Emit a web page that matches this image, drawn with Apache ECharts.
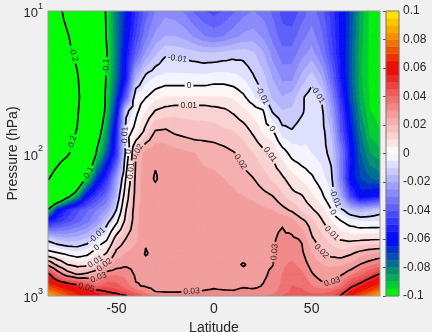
<!DOCTYPE html>
<html>
<head>
<meta charset="utf-8">
<script src="https://cdn.jsdelivr.net/npm/echarts@6/dist/echarts.min.js"></script>
<style>
  html, body { margin: 0; padding: 0; background: #f0f0f0; }
  #chart { width: 432px; height: 332px; }
</style>
</head>
<body>
<div id="chart"></div>
<script>
// grid of the field
var lats = [-85, -80, -75, -70, -65, -60, -55, -50, -45, -40, -35, -30, -25, -20, -15, -10, -5, 0, 5, 10, 15, 20, 25, 30, 35, 40, 45, 50, 55, 60, 65, 70, 75, 80, 85];
var levels = [10, 15, 20, 30, 40, 50, 70, 100, 150, 200, 250, 300, 400, 500, 600, 700, 850, 925, 1000];

var p10 = [-0.30, -0.22, -0.175, -0.15, -0.13, -0.115, -0.098, -0.08, -0.065, -0.05, -0.038, -0.03, -0.027, -0.028, -0.031, -0.036, -0.04, -0.042, -0.04, -0.036, -0.032, -0.03, -0.032, -0.036, -0.042, -0.044, -0.038, -0.033, -0.038, -0.047, -0.058, -0.072, -0.087, -0.097, -0.099];
var p15 = [-0.29, -0.235, -0.205, -0.165, -0.135, -0.117, -0.099, -0.08, -0.062, -0.045, -0.032, -0.024, -0.02, -0.02, -0.022, -0.026, -0.03, -0.032, -0.03, -0.027, -0.024, -0.023, -0.026, -0.032, -0.038, -0.038, -0.032, -0.028, -0.034, -0.045, -0.058, -0.073, -0.088, -0.097, -0.099];
var p20 = [-0.28, -0.245, -0.215, -0.19, -0.15, -0.12, -0.101, -0.08, -0.058, -0.038, -0.024, -0.016, -0.011, -0.0115, -0.012, -0.013, -0.014, -0.014, -0.013, -0.012, -0.012, -0.014, -0.019, -0.027, -0.033, -0.033, -0.027, -0.023, -0.03, -0.043, -0.058, -0.074, -0.089, -0.097, -0.099];
var p30 = [-0.27, -0.25, -0.225, -0.205, -0.16, -0.122, -0.098, -0.078, -0.055, -0.018, -0.007, -0.004, -0.003, -0.003, -0.003, -0.003, -0.003, -0.002, -0.002, -0.003, -0.005, -0.009, -0.013, -0.02, -0.026, -0.026, -0.018, -0.012, -0.019, -0.035, -0.055, -0.074, -0.089, -0.097, -0.099];
var p40 = [-0.265, -0.25, -0.23, -0.21, -0.165, -0.125, -0.096, -0.072, -0.04, -0.003, -0.0005, 0.003, 0.005, 0.005, 0.005, 0.005, 0.005, 0.005, 0.005, 0.004, 0.001, -0.004, -0.0102, -0.016, -0.02, -0.018, -0.011, -0.007, -0.0105, -0.027, -0.05, -0.072, -0.088, -0.096, -0.098];
var p50 = [-0.26, -0.245, -0.225, -0.205, -0.165, -0.125, -0.094, -0.065, -0.013, -0.002, 0.005, 0.0102, 0.012, 0.013, 0.013, 0.013, 0.013, 0.012, 0.011, 0.009, 0.006, 0.003, 0.0005, -0.011, -0.015, -0.014, -0.011, -0.006, -0.008, -0.022, -0.045, -0.068, -0.085, -0.095, -0.097];
var p70 = [-0.25, -0.235, -0.215, -0.198, -0.16, -0.112, -0.085, -0.055, -0.004, 0.003, 0.012, 0.0205, 0.021, 0.019, 0.018, 0.017, 0.017, 0.017, 0.016, 0.015, 0.013, 0.009, 0.004, 0.001, -0.008, -0.0095, -0.007, -0.005, -0.007, -0.016, -0.04, -0.063, -0.08, -0.092, -0.095];
var p100 = [-0.235, -0.22, -0.205, -0.18, -0.14, -0.097, -0.075, -0.05, -0.006, 0.0202, 0.027, 0.029, 0.028, 0.027, 0.026, 0.025, 0.024, 0.023, 0.022, 0.0205, 0.018, 0.015, 0.012, 0.009, 0.003, -0.002, -0.004, -0.005, -0.007, -0.012, -0.03, -0.058, -0.075, -0.085, -0.088];
var p150 = [-0.203, -0.18, -0.155, -0.125, -0.095, -0.068, -0.05, -0.025, 0.001, 0.022, 0.028, 0.0305, 0.028, 0.027, 0.027, 0.027, 0.026, 0.026, 0.025, 0.024, 0.022, 0.0202, 0.017, 0.014, 0.011, 0.007, 0.004, 0.001, -0.003, -0.008, -0.03, -0.061, -0.07, -0.075, -0.077];
var p200 = [-0.15, -0.13, -0.105, -0.085, -0.058, -0.045, -0.035, -0.017, 0.006, 0.023, 0.027, 0.028, 0.027, 0.027, 0.027, 0.026, 0.026, 0.026, 0.026, 0.026, 0.025, 0.024, 0.022, 0.0202, 0.016, 0.012, 0.0105, 0.006, 0.0015, -0.005, -0.02, -0.045, -0.062, -0.059, -0.055];
var p250 = [-0.097, -0.062, -0.05, -0.042, -0.036, -0.03, -0.024, -0.0098, 0.0102, 0.024, 0.027, 0.028, 0.028, 0.028, 0.028, 0.027, 0.027, 0.027, 0.027, 0.027, 0.027, 0.027, 0.026, 0.025, 0.022, 0.019, 0.014, 0.011, 0.007, 0.0003, -0.008, -0.015, -0.018, -0.016, -0.013];
var p300 = [-0.055, -0.048, -0.042, -0.037, -0.032, -0.025, -0.013, -0.002, 0.013, 0.024, 0.027, 0.028, 0.028, 0.028, 0.028, 0.028, 0.028, 0.028, 0.028, 0.028, 0.028, 0.028, 0.028, 0.029, 0.0295, 0.027, 0.022, 0.017, 0.011, 0.005, 0.0005, -0.003, -0.005, -0.005, -0.005];
var p400 = [-0.012, -0.016, -0.018, -0.017, -0.014, -0.006, -0.001, 0.014, 0.0205, 0.024, 0.0295, 0.028, 0.028, 0.028, 0.028, 0.028, 0.028, 0.028, 0.028, 0.028, 0.028, 0.028, 0.029, 0.0295, 0.031, 0.031, 0.0295, 0.021, 0.017, 0.013, 0.0095, 0.0085, 0.009, 0.0095, 0.0098];
var p500 = [0.003, 0.0005, -0.002, -0.004, -0.002, 0.004, 0.0102, 0.022, 0.025, 0.027, 0.0303, 0.029, 0.028, 0.028, 0.028, 0.028, 0.028, 0.028, 0.028, 0.028, 0.028, 0.028, 0.029, 0.0295, 0.032, 0.033, 0.031, 0.025, 0.0205, 0.018, 0.017, 0.019, 0.022, 0.024, 0.025];
var p600 = [0.028, 0.017, 0.0098, 0.007, 0.008, 0.013, 0.021, 0.027, 0.029, 0.029, 0.029, 0.029, 0.029, 0.028, 0.028, 0.028, 0.028, 0.028, 0.028, 0.029, 0.0303, 0.029, 0.029, 0.0298, 0.034, 0.036, 0.033, 0.028, 0.025, 0.024, 0.024, 0.026, 0.0302, 0.033, 0.036];
var p700 = [0.052, 0.035, 0.024, 0.019, 0.021, 0.025, 0.033, 0.034, 0.033, 0.029, 0.029, 0.028, 0.028, 0.028, 0.028, 0.028, 0.028, 0.028, 0.028, 0.028, 0.029, 0.029, 0.029, 0.031, 0.035, 0.038, 0.036, 0.0305, 0.027, 0.027, 0.029, 0.033, 0.038, 0.044, 0.0505];
var p850 = [0.07, 0.062, 0.058, 0.053, 0.046, 0.038, 0.043, 0.042, 0.037, 0.0305, 0.0295, 0.0285, 0.0285, 0.0285, 0.0285, 0.0285, 0.029, 0.0295, 0.029, 0.029, 0.0295, 0.029, 0.0302, 0.032, 0.036, 0.04, 0.039, 0.035, 0.032, 0.031, 0.036, 0.048, 0.054, 0.062, 0.068];
var p925 = [0.078, 0.072, 0.066, 0.061, 0.057, 0.053, 0.0495, 0.047, 0.042, 0.037, 0.033, 0.0298, 0.0295, 0.0295, 0.0298, 0.0299, 0.0302, 0.0305, 0.0303, 0.0302, 0.031, 0.031, 0.031, 0.033, 0.037, 0.041, 0.041, 0.038, 0.037, 0.039, 0.045, 0.055, 0.063, 0.07, 0.078];
var p1000 = [0.088, 0.08, 0.072, 0.066, 0.061, 0.057, 0.054, 0.054, 0.0505, 0.045, 0.038, 0.034, 0.032, 0.032, 0.032, 0.032, 0.033, 0.033, 0.033, 0.033, 0.033, 0.033, 0.034, 0.036, 0.04, 0.043, 0.043, 0.042, 0.042, 0.044, 0.051, 0.062, 0.072, 0.08, 0.088];
var rows = [p10, p15, p20, p30, p40, p50, p70, p100, p150, p200, p250, p300, p400, p500, p600, p700, p850, p925, p1000];

var contourLevels = [-0.2, -0.1, -0.01, 0, 0.01, 0.02, 0.03, 0.05];
var xTicks = [-50, 0, 50];
var yTicks = [10, 100, 1000];
var cbTicks = [-0.1, -0.08, -0.06, -0.04, -0.02, 0, 0.02, 0.04, 0.06, 0.08, 0.1];

var FONT = 'Liberation Sans, Arial, sans-serif';
var TXT = '#262626';

// colour map: green - blue - white - red - yellow
var cmapStops = [
  [-0.1, [0, 255, 0]],
  [-0.08, [0, 128, 128]],
  [-0.06, [0, 0, 255]],
  [-0.04, [85, 85, 250]],
  [-0.02, [170, 170, 252]],
  [0, [255, 255, 255]],
  [0.01, [250, 218, 218]],
  [0.02, [246, 184, 184]],
  [0.03, [242, 148, 148]],
  [0.04, [238, 102, 102]],
  [0.05, [236, 55, 55]],
  [0.06, [235, 0, 0]],
  [0.08, [245, 130, 0]],
  [0.1, [255, 240, 0]]
];
function rgb(c) { return 'rgb(' + c.map(Math.round).join(',') + ')'; }
function colorAt(v) {
  if (v <= cmapStops[0][0]) return rgb(cmapStops[0][1]);
  for (var k = 1; k < cmapStops.length; k++) {
    if (v <= cmapStops[k][0]) {
      var a = cmapStops[k - 1], b = cmapStops[k];
      var t = (v - a[0]) / (b[0] - a[0]);
      return rgb([0, 1, 2].map(function (c) { return a[1][c] + t * (b[1][c] - a[1][c]); }));
    }
  }
  return rgb(cmapStops[cmapStops.length - 1][1]);
}

// filled bands, 0.005 wide, open at both ends
var bandStep = 0.005;
var bandEdges = [-10];
for (var k = 0; k <= 40; k++) bandEdges.push(Math.round((-0.1 + k * bandStep) * 1e6) / 1e6);
bandEdges.push(10);
var bandColors = [];
for (var k = 0; k < bandEdges.length - 1; k++) {
  var mid = Math.max(-0.1, Math.min(0.1, (bandEdges[k] + bandEdges[k + 1]) / 2));
  bandColors.push(colorAt(mid));
}
var cbBands = [];
for (var k = 1; k < bandEdges.length - 2; k++) cbBands.push([bandEdges[k], bandEdges[k + 1], k]);

var quads = [];
for (var j = 0; j < levels.length - 1; j++)
  for (var i = 0; i < lats.length - 1; i++)
    quads.push([lats[i], levels[j], i, j]);

function node(api, i, j) {
  var c = api.coord([lats[i], levels[j]]);
  return { x: c[0], y: c[1], v: rows[j][i], id: 'n' + i + '_' + j };
}
function quadTriangles(api, i, j) {
  var a = node(api, i, j), b = node(api, i + 1, j), c = node(api, i + 1, j + 1), d = node(api, i, j + 1);
  var m = { x: (a.x + b.x + c.x + d.x) / 4, y: (a.y + b.y + c.y + d.y) / 4, v: (a.v + b.v + c.v + d.v) / 4, id: 'm' + i + '_' + j };
  return [[a, b, m], [b, c, m], [c, d, m], [d, a, m]];
}
function clip(poly, lim, sign) {
  var out = [];
  for (var k = 0; k < poly.length; k++) {
    var p = poly[k], q = poly[(k + 1) % poly.length];
    var pin = sign * (p.v - lim) >= 0, qin = sign * (q.v - lim) >= 0;
    if (pin) out.push(p);
    if (pin !== qin) {
      var t = (lim - p.v) / (q.v - p.v);
      out.push({ x: p.x + t * (q.x - p.x), y: p.y + t * (q.y - p.y), v: lim });
    }
  }
  return out;
}
function area(poly) {
  var s = 0;
  for (var k = 0; k < poly.length; k++) {
    var p = poly[k], q = poly[(k + 1) % poly.length];
    s += p.x * q.y - q.x * p.y;
  }
  return Math.abs(s) / 2;
}

function renderField(params, api) {
  var tris = quadTriangles(api, api.value(2), api.value(3));
  var children = [];
  tris.forEach(function (tri) {
    var lo = Math.min(tri[0].v, tri[1].v, tri[2].v), hi = Math.max(tri[0].v, tri[1].v, tri[2].v);
    for (var k = 0; k < bandColors.length; k++) {
      if (bandEdges[k + 1] < lo || bandEdges[k] > hi) continue;
      var poly = clip(clip(tri, bandEdges[k], 1), bandEdges[k + 1], -1);
      if (poly.length < 3 || area(poly) < 0.05) continue;
      children.push({
        type: 'polygon',
        shape: { points: poly.map(function (p) { return [p.x, p.y]; }) },
        style: { fill: bandColors[k], stroke: bandColors[k], lineWidth: 0.8 }
      });
    }
  });
  return { type: 'group', children: children };
}

// contour lines
var labelFont = 8.5;
var labelSpacing = 110;
function textWidth(s) {
  var w = 0;
  for (var k = 0; k < s.length; k++) w += s[k] === '.' ? 0.278 : s[k] === '-' ? 0.333 : 0.556;
  return w * labelFont;
}
function edgePoint(p, q, c) {
  if (p.id > q.id) { var t0 = p; p = q; q = t0; }
  var t = (c - p.v) / (q.v - p.v);
  return { x: p.x + t * (q.x - p.x), y: p.y + t * (q.y - p.y), key: p.id + '|' + q.id };
}
function joinSegments(segs) {
  var adj = {};
  segs.forEach(function (s, n) {
    (adj[s[0].key] = adj[s[0].key] || []).push(n);
    (adj[s[1].key] = adj[s[1].key] || []).push(n);
  });
  var used = [], lines = [];
  function walk(line, cur, front) {
    while (true) {
      var next = -1, list = adj[cur.key] || [];
      for (var k = 0; k < list.length; k++) if (!used[list[k]]) { next = list[k]; break; }
      if (next < 0) return;
      used[next] = true;
      var s = segs[next];
      var other = s[0].key === cur.key ? s[1] : s[0];
      if (front) line.push(other); else line.unshift(other);
      cur = other;
    }
  }
  segs.forEach(function (s, n) {
    if (used[n]) return;
    used[n] = true;
    var line = [s[0], s[1]];
    walk(line, s[1], true);
    walk(line, s[0], false);
    lines.push(line);
  });
  return lines;
}
function drawContour(line, c, children) {
  var cum = [0];
  for (var k = 1; k < line.length; k++)
    cum.push(cum[k - 1] + Math.hypot(line[k].x - line[k - 1].x, line[k].y - line[k - 1].y));
  var L = cum[cum.length - 1];
  function pointAt(s) {
    s = Math.max(0, Math.min(L, s));
    for (var k = 1; k < line.length; k++) {
      if (s <= cum[k]) {
        var d = cum[k] - cum[k - 1], t = d > 0 ? (s - cum[k - 1]) / d : 0;
        return [line[k - 1].x + t * (line[k].x - line[k - 1].x), line[k - 1].y + t * (line[k].y - line[k - 1].y)];
      }
    }
    return [line[line.length - 1].x, line[line.length - 1].y];
  }
  function piece(s0, s1) {
    if (s1 - s0 < 0.5) return;
    var pts = [pointAt(s0)];
    for (var k = 0; k < line.length; k++) if (cum[k] > s0 && cum[k] < s1) pts.push([line[k].x, line[k].y]);
    pts.push(pointAt(s1));
    children.push({ type: 'polyline', shape: { points: pts }, style: { stroke: '#000', lineWidth: 1.7, fill: null } });
  }
  var text = String(c);
  var w = textWidth(text) + 4;
  var marks = [];
  if (L > w * 3) {
    var n = Math.max(1, Math.round(L / labelSpacing));
    for (var k = 0; k < n; k++) marks.push((k + 0.5) * L / n);
  }
  var start = 0;
  marks.forEach(function (s) { piece(start, s - w / 2); start = s + w / 2; });
  piece(start, L);
  marks.forEach(function (s) {
    var a = pointAt(s - w / 2), b = pointAt(s + w / 2), p = pointAt(s);
    var ang = Math.atan2(-(b[1] - a[1]), b[0] - a[0]);
    if (ang > Math.PI / 2) ang -= Math.PI;
    if (ang < -Math.PI / 2) ang += Math.PI;
    children.push({
      type: 'text', x: p[0], y: p[1], rotation: ang,
      style: { text: text, fill: TXT, fontSize: labelFont, fontFamily: FONT, align: 'center', verticalAlign: 'middle' }
    });
  });
}
function renderContours(params, api) {
  var tris = [];
  for (var j = 0; j < levels.length - 1; j++)
    for (var i = 0; i < lats.length - 1; i++)
      tris = tris.concat(quadTriangles(api, i, j));
  var children = [];
  contourLevels.forEach(function (c) {
    var segs = [];
    tris.forEach(function (tri) {
      var cross = [];
      for (var k = 0; k < 3; k++) {
        var p = tri[k], q = tri[(k + 1) % 3];
        if ((p.v > c) !== (q.v > c)) cross.push(edgePoint(p, q, c));
      }
      if (cross.length === 2) segs.push(cross);
    });
    joinSegments(segs).forEach(function (line) { drawContour(line, c, children); });
  });
  return { type: 'group', children: children };
}
function renderFrame(params, api) {
  var tl = api.coord([lats[0], levels[0]]), br = api.coord([lats[lats.length - 1], levels[levels.length - 1]]);
  return { type: 'rect', shape: { x: tl[0], y: tl[1], width: br[0] - tl[0], height: br[1] - tl[1] }, style: { fill: null, stroke: '#9a9a9a', lineWidth: 1 } };
}
function renderBand(params, api) {
  var a = api.coord([0, api.value(0)]), b = api.coord([1, api.value(1)]);
  var col = bandColors[api.value(2)];
  return { type: 'rect', shape: { x: a[0], y: b[1], width: b[0] - a[0], height: a[1] - b[1] }, style: { fill: col, stroke: col, lineWidth: 0.4 } };
}
function renderCbFrame(params, api) {
  var a = api.coord([0, cbTicks[0]]), b = api.coord([1, cbTicks[cbTicks.length - 1]]);
  return { type: 'rect', shape: { x: a[0], y: b[1], width: b[0] - a[0], height: a[1] - b[1] }, style: { fill: null, stroke: '#777', lineWidth: 1 } };
}

var chart = echarts.init(document.getElementById('chart'));
chart.setOption({
  backgroundColor: '#f0f0f0',
  animation: false,
  grid: [
    { left: 48, top: 11, width: 332, height: 285, outerBoundsMode: 'none', containLabel: false },
    { left: 386, top: 11, width: 13, height: 285, outerBoundsMode: 'none', containLabel: false }
  ],
  xAxis: [
    {
      gridIndex: 0, type: 'value', min: lats[0], max: lats[lats.length - 1],
      axisLine: { show: false }, axisTick: { show: false }, splitLine: { show: false },
      axisLabel: { customValues: xTicks, color: TXT, fontSize: 14, fontFamily: FONT, margin: 6 },
      name: 'Latitude', nameLocation: 'middle', nameGap: 22,
      nameTextStyle: { color: TXT, fontSize: 14, fontFamily: FONT }
    },
    { gridIndex: 1, type: 'value', min: 0, max: 1, show: false }
  ],
  yAxis: [
    {
      gridIndex: 0, type: 'log', logBase: 10, min: levels[0], max: levels[levels.length - 1], inverse: true,
      axisLine: { show: false }, axisTick: { show: false }, splitLine: { show: false },
      axisLabel: {
        customValues: yTicks, margin: 5,
        formatter: function (v) { return '{b|10}{s|' + Math.round(Math.log(v) / Math.LN10) + '}'; },
        rich: {
          b: { fontSize: 13, color: TXT, fontFamily: FONT, verticalAlign: 'bottom', lineHeight: 18 },
          s: { fontSize: 9, color: TXT, fontFamily: FONT, verticalAlign: 'top', lineHeight: 18 }
        }
      },
      name: 'Pressure (hPa)', nameLocation: 'middle', nameGap: 28, nameRotate: 90, nameMoveOverlap: false,
      nameTextStyle: { color: TXT, fontSize: 14, fontFamily: FONT }
    },
    {
      gridIndex: 1, type: 'value', min: cbTicks[0], max: cbTicks[cbTicks.length - 1], interval: 0.02, position: 'right',
      axisLine: { show: false }, splitLine: { show: false },
      axisTick: { show: true, inside: true, length: 3, lineStyle: { color: '#555' } },
      axisLabel: { color: TXT, fontSize: 12, fontFamily: FONT, margin: 4 }
    }
  ],
  series: [
    { type: 'custom', name: 'field', xAxisIndex: 0, yAxisIndex: 0, data: quads, encode: { x: 0, y: 1 }, renderItem: renderField, clip: true, silent: true, z: 1 },
    { type: 'custom', name: 'contours', xAxisIndex: 0, yAxisIndex: 0, data: [[0, 100]], encode: { x: 0, y: 1 }, renderItem: renderContours, clip: true, silent: true, z: 2 },
    { type: 'custom', name: 'frame', xAxisIndex: 0, yAxisIndex: 0, data: [[0, 100]], encode: { x: 0, y: 1 }, renderItem: renderFrame, silent: true, z: 3 },
    { type: 'custom', name: 'colorbar', xAxisIndex: 1, yAxisIndex: 1, data: cbBands, renderItem: renderBand, silent: true, z: 1 },
    { type: 'custom', name: 'colorbarFrame', xAxisIndex: 1, yAxisIndex: 1, data: [[0.5, 0]], renderItem: renderCbFrame, silent: true, z: 3 }
  ]
});
</script>
</body>
</html>
